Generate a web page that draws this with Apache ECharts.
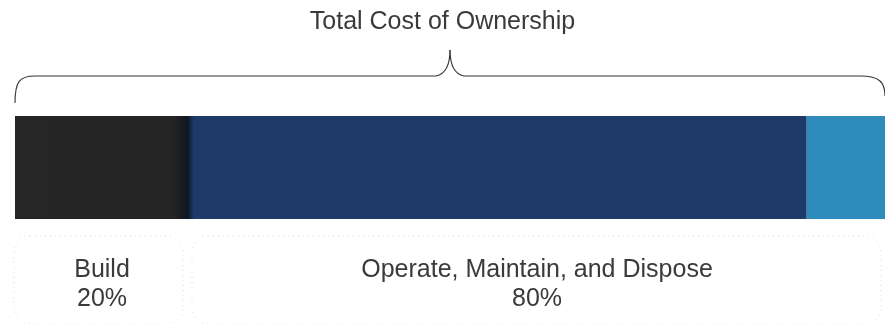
<!DOCTYPE html>
<html>
<head>
<meta charset="utf-8">
<script src="https://cdn.jsdelivr.net/npm/echarts@6/dist/echarts.min.js"></script>
<style>
  html, body { margin: 0; padding: 0; background: #fff; }
  #chart { width: 885px; height: 324px; }
</style>
</head>
<body>
<div id="chart"></div>
<script>
// Life-cycle cost split, shown as one stacked bar
const categories = ['TCO'];
const phases = ['Build', 'Operate & Maintain', 'Dispose'];
const shares = [20, 71, 9];
const phaseColors = ['#262626', '#1e3a69', '#2f8bbb'];

// Groups annotated below the bar
const groupLabels = ['Build', 'Operate, Maintain, and Dispose'];
const groupShares = [20, 80];
const groupStarts = [0, 20];

const titleText = 'Total Cost of Ownership';
const FONT = '"Liberation Sans", Arial, sans-serif';
const TEXT_COLOR = '#3a3a3a';

const chart = echarts.init(document.getElementById('chart'));

function phaseColor(i) {
  if (i === 0) {
    return new echarts.graphic.LinearGradient(0, 0, 1, 0, [
      { offset: 0, color: '#262626' },
      { offset: 0.9, color: '#252525' },
      { offset: 1, color: '#0f1720' }
    ]);
  }
  if (i === 1) {
    return new echarts.graphic.LinearGradient(0, 0, 1, 0, [
      { offset: 0, color: '#122038' },
      { offset: 0.008, color: '#1e3a69' },
      { offset: 1, color: '#1d3a68' }
    ]);
  }
  return phaseColors[i];
}

chart.setOption({
  animation: false,
  title: {
    text: titleText,
    left: 'center',
    top: 5,
    textStyle: { fontFamily: FONT, fontWeight: 'normal', fontSize: 25, color: TEXT_COLOR }
  },
  grid: { left: 15, right: 0, top: 116, height: 103 },
  xAxis: { type: 'value', min: 0, max: 100, show: false },
  yAxis: { type: 'category', data: categories, show: false },
  series: phases.map((name, i) => ({
    name,
    type: 'bar',
    stack: 'total',
    barWidth: '100%',
    data: [shares[i]],
    itemStyle: { color: phaseColor(i) }
  }))
});

function drawAnnotations() {
  const px = v => chart.convertToPixel({ xAxisIndex: 0 }, v);
  const x0 = px(0), x1 = px(100);
  const mid = (x0 + x1) / 2;
  const yBar = 116;
  const yLine = 76, yPeak = 50;
  const braceStyle = { fill: null, stroke: '#333', lineWidth: 1.1 };

  const seg = (type, shape) => ({ type, shape, style: braceStyle, silent: true });

  // Curly brace spanning the whole bar
  const elements = [
    seg('bezierCurve', { x1: x0, y1: yBar - 13, cpx1: x0, cpy1: yLine + 6, cpx2: x0 + 4, cpy2: yLine, x2: x0 + 20, y2: yLine }),
    seg('line', { x1: x0 + 20, y1: yLine, x2: mid - 14, y2: yLine }),
    seg('bezierCurve', { x1: mid - 14, y1: yLine, cpx1: mid, cpy1: yLine - 3, x2: mid, y2: yPeak }),
    seg('bezierCurve', { x1: mid, y1: yPeak, cpx1: mid, cpy1: yLine - 3, x2: mid + 14, y2: yLine }),
    seg('line', { x1: mid + 14, y1: yLine, x2: x1 - 24, y2: yLine }),
    seg('bezierCurve', { x1: x1 - 24, y1: yLine, cpx1: x1 - 6, cpy1: yLine, cpx2: x1, cpy2: yLine + 6, x2: x1, y2: yBar - 20 })
  ];

  // Rounded dashed boxes with group labels
  groupLabels.forEach((label, i) => {
    const a = px(groupStarts[i]);
    const b = px(groupStarts[i] + groupShares[i]);
    const left = a + (i === 0 ? -1 : 3);
    const right = b + (i === 0 ? -6 : -4);
    elements.push({
      type: 'rect',
      shape: { x: left, y: 236, width: right - left, height: 88, r: 16 },
      style: { fill: null, stroke: '#dadada', lineWidth: 1, lineDash: [1, 4] },
      silent: true
    });
    elements.push({
      type: 'text',
      x: (a + b) / 2,
      y: 285,
      style: {
        text: label + '\n' + groupShares[i] + '%',
        fontFamily: FONT,
        fontSize: 25,
        lineHeight: 29,
        fill: TEXT_COLOR,
        align: 'center',
        verticalAlign: 'middle'
      },
      silent: true
    });
  });

  chart.setOption({ graphic: { elements } });
}

drawAnnotations();
</script>
</body>
</html>
